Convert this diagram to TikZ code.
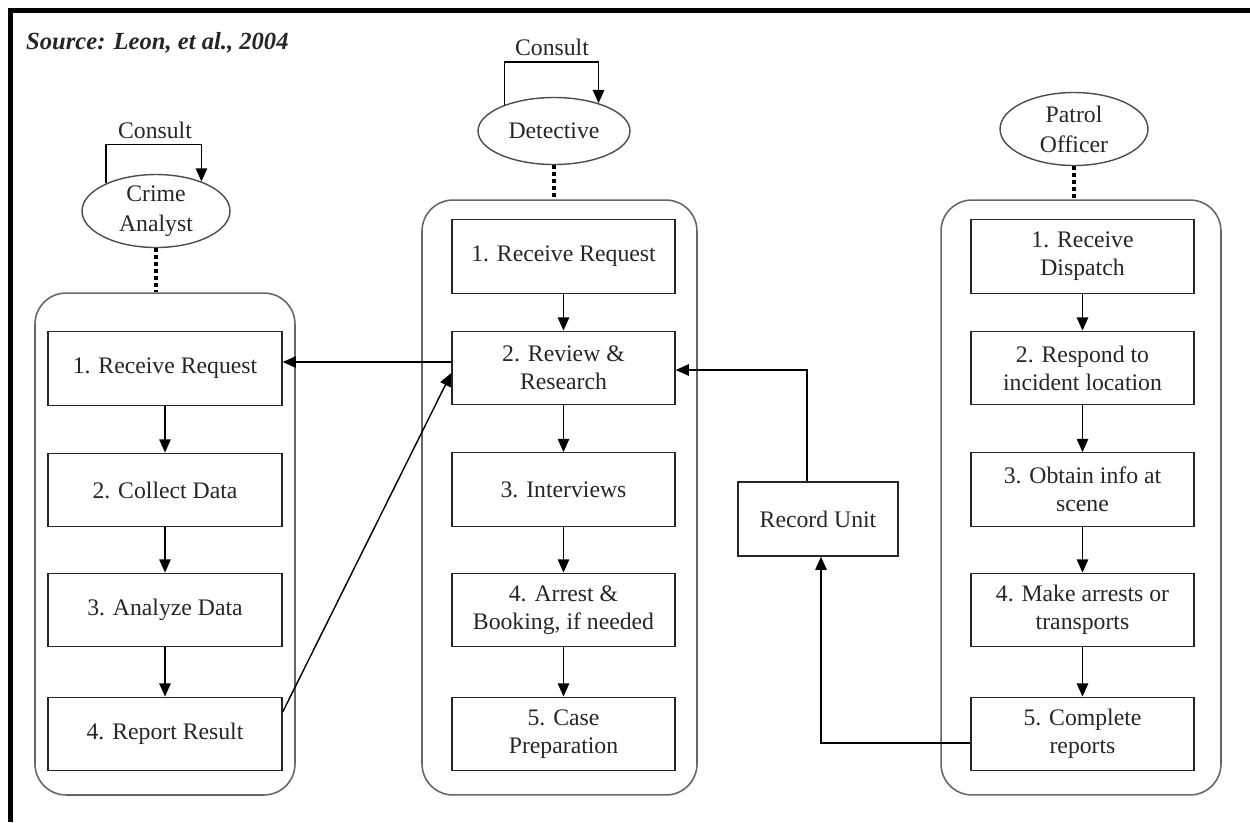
\documentclass[tikz,border=0pt]{standalone}
\usepackage{fontspec}
\setmainfont{Liberation Serif}
\usetikzlibrary{shapes.geometric,arrows.meta,calc}
\begin{document}
\begin{tikzpicture}[x=0.02cm,y=-0.02cm,
  every node/.style={font=\fontsize{13.5}{16}\selectfont, text=black!85},
  box/.style={draw=black!85, line width=0.8pt, rectangle, minimum height=1.47cm, align=center, inner sep=2pt},
  lbox/.style={box, minimum width=4.68cm},
  mbox/.style={box, minimum width=4.46cm},
  cont/.style={draw=black!60, line width=0.9pt, rounded corners=0.62cm, minimum height=10.04cm},
  ell/.style={draw=black!70, line width=0.8pt, ellipse, inner sep=0pt, align=center},
  arr/.style={draw=black, line width=0.8pt, -{Triangle[length=7.5pt,width=6.5pt]}},
  dots/.style={draw=black, line width=2.3pt, dash pattern=on 2.2pt off 1.8pt},
  lnk/.style={draw=black!85, line width=0.8pt}]
\useasboundingbox (0,0) rectangle (1250,822);
\draw[line width=2.4pt] (10.5,822) -- (10.5,10.5) -- (1250,10.5);
\node[anchor=west, font=\fontsize{14}{16}\selectfont\bfseries\itshape] (src) at (20,43) {Source: Leon, et al., 2004};

% containers
\node[cont, minimum width=5.2cm, minimum height=10.04cm] (Lc) at (165,544) {};
\node[cont, minimum width=5.5cm, minimum height=11.9cm] (Mc) at (559.5,497.5) {};
\node[cont, minimum width=5.6cm, minimum height=11.9cm] (Rc) at (1081,497.5) {};

% actors
\node[ell, minimum width=2.96cm, minimum height=1.46cm] (CA) at (156,211) {Crime\\[1pt]Analyst};
\node[ell, minimum width=3.04cm, minimum height=1.34cm] (DT) at (554,131) {Detective};
\node[ell, minimum width=2.96cm, minimum height=1.46cm] (PO) at (1074,129) {Patrol\\[1pt]Officer};

\node (c1) at (155,130) {Consult};
\node (c2) at (552,47) {Consult};
\draw[arr] (CA.151) -- ++(0,-39) -| (CA.33);
\draw[arr] (DT.152) -- ++(0,-43) -| (DT.32);

\draw[dots] (CA.south) -- (CA.south |- Lc.north);
\draw[dots] (DT.south) -- (DT.south |- Mc.north);
\draw[dots] (PO.south) -- (PO.south |- Rc.north);

% left column
\node[lbox] (L1) at (165,368.5) {1. Receive Request};
\node[lbox] (L2) at (165,490) {2. Collect Data};
\node[lbox] (L3) at (165,610) {3. Analyze Data};
\node[lbox] (L4) at (165,734) {4. Report Result};

% middle column
\node[mbox] (M1) at (563.5,256.5) {1. Receive Request};
\node[mbox] (M2) at (563.5,368) {2. Review \&\\Research};
\node[mbox] (M3) at (563.5,489.5) {3. Interviews};
\node[mbox] (M4) at (563.5,610) {4. Arrest \&\\Booking, if needed};
\node[mbox] (M5) at (563.5,734) {5. Case\\Preparation};

% right column
\node[mbox] (R1) at (1082.5,256.5) {1. Receive\\Dispatch};
\node[mbox] (R2) at (1082.5,368) {2. Respond to\\incident location};
\node[mbox] (R3) at (1082.5,489.5) {3. Obtain info at\\scene};
\node[mbox] (R4) at (1082.5,610) {4. Make arrests or\\transports};
\node[mbox] (R5) at (1082.5,734) {5. Complete\\reports};

\node[box, minimum width=3.2cm, minimum height=1.48cm] (RU) at (818,519) {Record Unit};

% vertical arrows
\foreach \a/\b in {L1/L2,L2/L3,L3/L4,M1/M2,M2/M3,M3/M4,M4/M5,R1/R2,R2/R3,R3/R4,R4/R5}
  \draw[arr] (\a.south) -- (\b.north);

% cross links
\draw[arr] (M2.west |- 0,362) -- (L1.east |- 0,362);
\draw[arr] (L4.east |- 0,712) -- (M2.west |- 0,373);
\coordinate (ru1) at (807,370);
\draw[arr] (RU.north -| ru1) -- (ru1) -- (M2.east |- ru1);
\coordinate (ru2) at (821,743);
\draw[arr] (R5.west |- ru2) -- (ru2) -- (RU.south -| ru2);
\end{tikzpicture}
\end{document}
